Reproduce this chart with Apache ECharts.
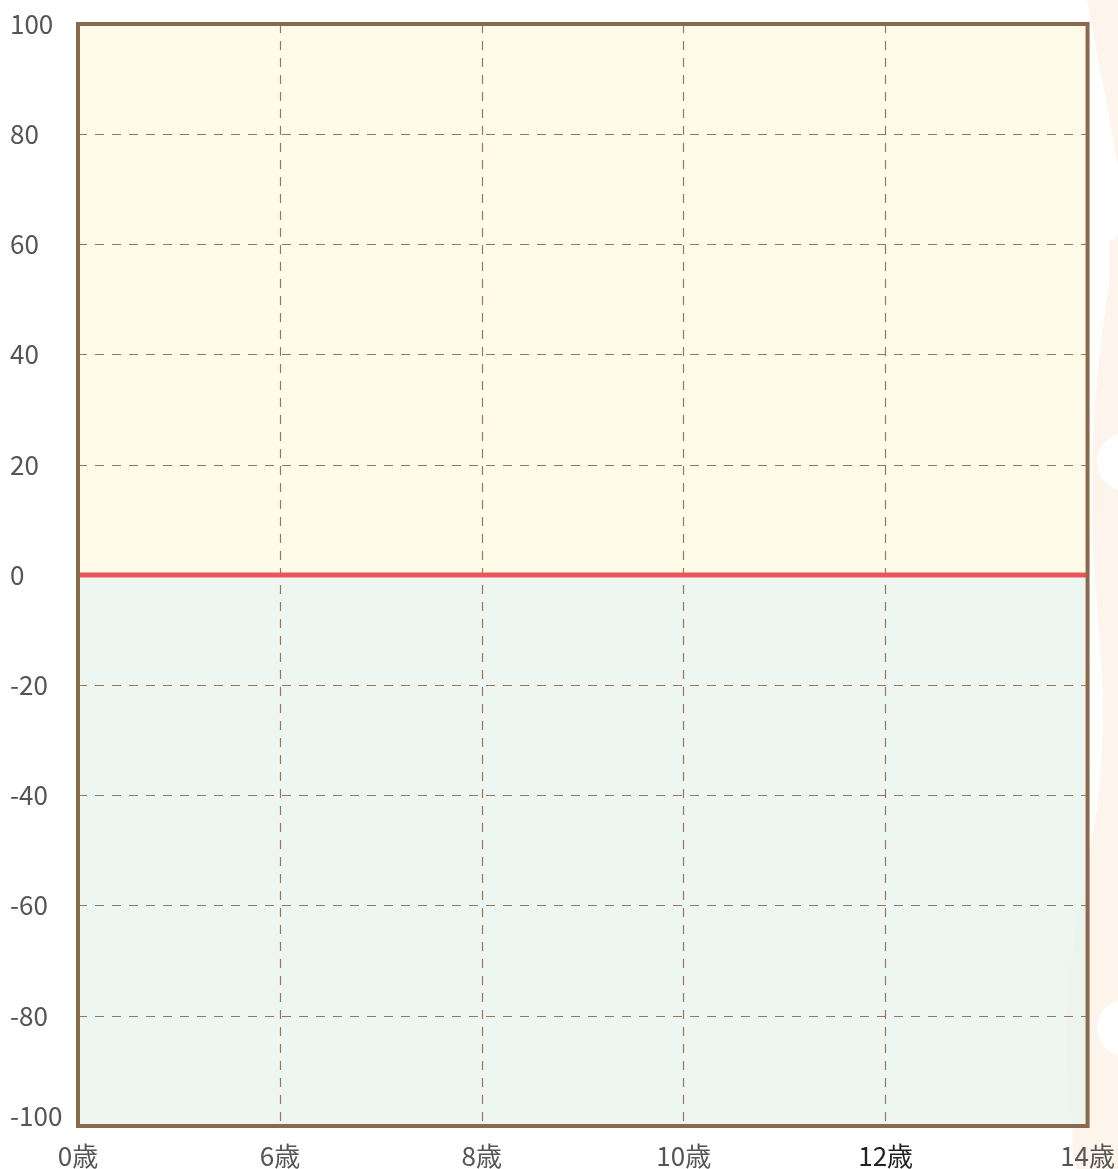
<!DOCTYPE html>
<html><head><meta charset="utf-8">
<script src="https://cdn.jsdelivr.net/npm/echarts@6/dist/echarts.min.js"></script>
<style>html,body{margin:0;padding:0;background:#fff}#c{width:1118px;height:1169px}</style>
</head><body><div id="c"></div>
<script>
var categories = ['0歳', '6歳', '8歳', '10歳', '12歳', '14歳'];
var zeroLine = [0, 0, 0, 0, 0, 0];
var yMin = -100, yMax = 100, yStep = 20;
var upperBand = [0, 100];
var lowerBand = [-100, 0];

var chart = echarts.init(document.getElementById('c'));
chart.setOption({
  animation: false,
  graphic: [
    { type: 'polygon', z: -10, silent: true, shape: { points: [[1087,0],[1118,0],[1118,165]] }, style: { fill: '#fdf4ec' } },
    { type: 'polygon', z: -10, silent: true, shape: { smooth: 0.35, points: [[1118,240],[1104,320],[1094,420],[1092,520],[1098,620],[1103,700],[1099,790],[1088,860],[1074,940],[1066,1040],[1072,1120],[1078,1169],[1118,1169]] }, style: { fill: '#fdf4ec' } },
    { type: 'rect', z: -10, silent: true, shape: { x: 1110, y: 240, width: 8, height: 929 }, style: { fill: '#fdf4ec' } },
    { type: 'circle', z: -9, silent: true, shape: { cx: 1126, cy: 462, r: 29 }, style: { fill: '#fff' } },
    { type: 'circle', z: -9, silent: true, shape: { cx: 1125, cy: 1028, r: 28 }, style: { fill: '#fff' } }
  ],
  grid: { left: 78, right: 30, top: 24, bottom: 43, show: true, borderColor: '#8b6a4b', borderWidth: 4, backgroundColor: 'transparent', z: 5 },
  xAxis: {
    type: 'category', data: categories.map(function (c) { return c === '12歳' ? { value: c, textStyle: { color: '#222' } } : c; }),
    boundaryGap: false,
    axisLine: { show: false }, axisTick: { show: false },
    axisLabel: { fontSize: 26, color: '#555', margin: 17, fontFamily: 'Noto Sans CJK JP' },
    splitLine: { show: true, lineStyle: { color: '#9a7658', type: [9, 8], width: 1.2 } }
  },
  yAxis: {
    type: 'value', min: yMin, max: yMax, interval: yStep,
    axisLine: { show: false }, axisTick: { show: false },
    axisLabel: {
      fontSize: 26, color: '#555', align: 'left', margin: 68, fontFamily: 'Noto Sans CJK JP',
      formatter: function (v) { return v === yMin ? '{lo|' + v + '}' : String(v); },
      rich: { lo: { fontSize: 26, color: '#555', fontFamily: 'Noto Sans CJK JP', padding: [0, 0, 20, 0] } }
    },
    splitLine: { show: true, lineStyle: { color: '#9a7658', type: [9, 8], width: 1.2 } }
  },
  series: [{
    type: 'line', data: zeroLine, symbol: 'none', z: 4,
    lineStyle: { color: '#ec545a', width: 5 },
    markArea: {
      silent: true, z: -1,
      data: [
        [{ yAxis: upperBand[0], itemStyle: { color: 'rgba(255,250,226,0.8)' } }, { yAxis: upperBand[1] }],
        [{ yAxis: lowerBand[0], itemStyle: { color: 'rgba(233,244,238,0.8)' } }, { yAxis: lowerBand[1] }]
      ]
    }
  }]
});
</script></body></html>
